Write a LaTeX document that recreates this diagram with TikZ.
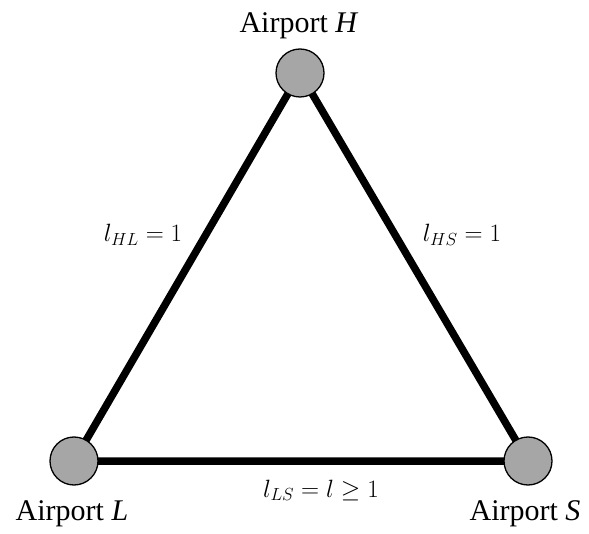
\RequirePackage{fix-cm}
\documentclass[tikz,border=0pt]{standalone}
\usepackage{fontspec}
\setmainfont{Liberation Serif}
\begin{document}
\begin{tikzpicture}[x=1pt,y=-1pt,
  airport/.style={circle,draw=black,line width=1.3pt,fill=black!35,minimum size=48pt,inner sep=0pt},
  linkline/.style={line width=7.5pt},
  airname/.style={anchor=base,inner sep=0pt,font=\fontsize{30}{36}\selectfont},
  lenlabel/.style={anchor=base,inner sep=0pt,font=\fontsize{25}{30}\selectfont}]
\useasboundingbox (0,0) rectangle (589,534);
\coordinate (h) at (300,73);
\coordinate (l) at (74,461);
\coordinate (s) at (528,461);
\draw[linkline] (h) -- (l) -- (s) -- cycle;
\node[airport] (H) at (h) {};
\node[airport] (L) at (l) {};
\node[airport] (S) at (s) {};
\node[airname] (tH) at (299,33) {Airport \textit{H}};
\node[airname] (tL) at (72,520) {Airport \textit{L}};
\node[airname] (tS) at (525,520) {Airport \textit{S}};
\node[lenlabel] (eHL) at (143,242) {$l_{HL}=1$};
\node[lenlabel] (eHS) at (462,242) {$l_{HS}=1$};
\node[lenlabel] (eLS) at (321,497) {$l_{LS}=l\geq 1$};
\end{tikzpicture}
\end{document}
